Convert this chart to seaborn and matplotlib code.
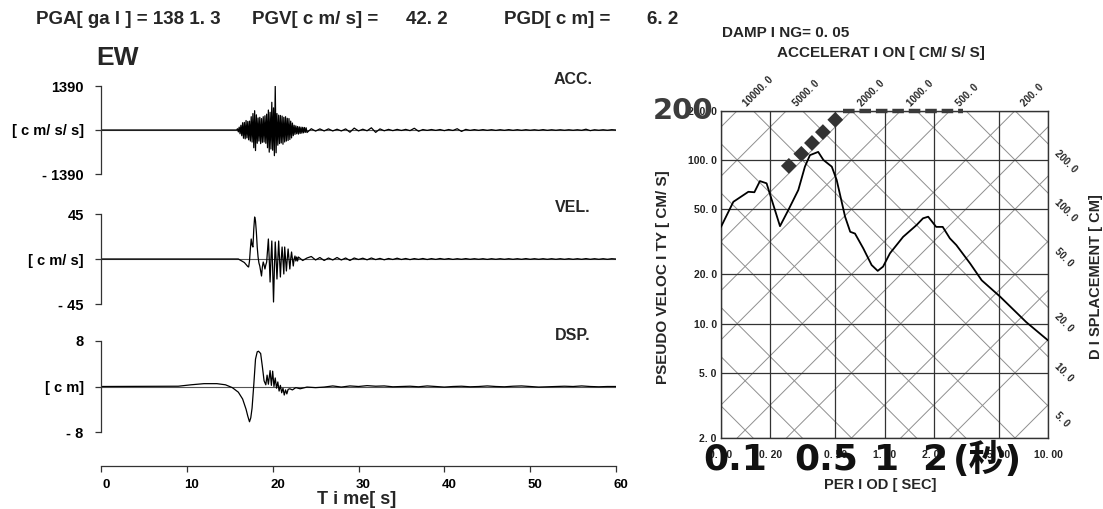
import numpy as np
import pandas as pd
import matplotlib
matplotlib.use("Agg")
import matplotlib.pyplot as plt
import seaborn as sns
from matplotlib.transforms import ScaledTranslation

# ---------------- data ----------------
header_texts = ["PGA[ ga l ] = 138 1. 3", "PGV[ c m/ s] =", "42. 2", "PGD[ c m] =", "6. 2"]
component = "EW"

# acceleration record (gal)
acc_t0, acc_dt = 15.8, 0.1
acc_strong = [0, 40, -60, 90, -120, 150, -180, 230, -260, 240,
              -280, 300, -250, 270, -310, 280, -350, 420, -380, 520,
              -560, 610, -650, 480, -420, 380, -350, 400, -430, 360,
              -390, 420, -380, 450, -420, 500, -560, 630, -700, 560,
              -600, 875, -640, 700, -810, 1381, -720, 520, -480, 470,
              -430, 460, -410, 440, -450, 400, -380, 420, -350, 370,
              -330, 360, -300, 280, -250, 220, -180, 150, -140, 130,
              -120, 110, -130, 100, -110, 90, -100, 85, -90, 80,
              -75, 70, -80]
acc_tail_t0, acc_tail_dt = 24.5, 0.5
acc_tail = [40, -35, 35, -30, 35, -30, 25, -30, 35, -70,
            60, -30, 25, -25, 70, -75, 35, -25, 20, -20,
            20, -15, 20, -20, 55, -40, 15, -12, 15, -12,
            15, -20, 15, -15, 40, -45, 20, -12, 12, -10,
            12, -10, 10, -12, 10, -10, 12, -10, 10, -10,
            10, -8, 8, -10, 12, -10, 8, -8, 8, -8,
            8, -8, 8, -10, 25, -20, 8, -8, 8, -8,
            10, 0]

# velocity record (cm/s)
vel_t0, vel_dt = 16.0, 0.1
vel_strong = [0, -0.5, -1, -1.5, -2, -2.5, -3, -3.5, -4.5, -5.5,
              -6.5, -7.5, -8, -2, 10, 20, 14, 12, 30, 42,
              38, 27, 12, 2, -4, -7, -12, -17, -8, -3,
              -6, -10, -6, -3, 8, 20, 0, -23, 0, 18,
              -10, -43, -10, 17, 0, -20, 0, 18, 0, -18,
              0, 12, -2, -15, 12, 0, -12, 0, 10, 0,
              -10, 0, 7, 0, -7, 0, 3, -2, 2, -2,
              2]
vel_tail_t0, vel_tail_dt = 23.5, 0.5
vel_tail = [-1.5, 1.0, 2.5, -1.0, 1.5, -1.5, 1.0, -1.0, 1.5, -1.0,
            1.0, -1.5, 1.0, -0.5, 0.8, -0.8, 1.0, -0.6, 0.6, -0.8,
            0.5, -0.5, 0.8, -0.5, 0.5, -0.6, 0.4, -0.4, 0.5, -0.5,
            0.4, -0.4, 0.5, -0.3, 0.4, -0.4, 0.3, -0.3, 0.4, -0.3,
            0.3, -0.3, 0.3, -0.4, 0.3, -0.3, 0.3, -0.3, 0.3, -0.3,
            0.3, -0.3, 0.4, -0.3, 0.3, -0.3, 0.3, -0.3, 0.3, -0.3,
            0.3, -0.3, 0.3, -0.3, 0.3, -0.3, 0.4, -0.3, 0.3, -0.3,
            0.3, -0.3, 0.3, 0.0]

# displacement record (cm)
dsp_t = [0, 9.0, 10.5, 12.0, 13.5, 14.5, 15.3, 16.0, 16.5, 16.9,
         17.1, 17.3, 17.45, 17.6, 17.8, 18.0, 18.2, 18.35, 18.6, 18.8,
         19.0, 19.2, 19.35, 19.5, 19.7, 19.85, 20.0, 20.15, 20.3, 20.45,
         20.6, 20.75, 20.9, 21.05, 21.2, 21.35, 21.5, 21.65, 21.8, 22.0,
         22.3, 22.7, 23.2, 24.0, 25.0]
dsp_v = [0, 0.05, 0.3, 0.5, 0.5, 0.3, -0.2, -1.0, -2.2, -4.0,
         -5.2, -6.2, -5.5, -3.8, 0.3, 4.8, 6.1, 6.2, 5.8, 3.5,
         1.0, 0.3, 2.0, 0.4, 2.8, 0.2, 2.7, 0.0, 1.5, -0.3,
         0.8, -0.8, 0.2, -1.1, -0.3, -1.5, -0.6, -1.3, -0.5, -0.4,
         -0.6, -0.2, -0.4, -0.1, -0.2]
dsp_tail_t0, dsp_tail_dt = 26.0, 1.0
dsp_tail = [-0.1, 0.1, -0.1, 0.1, 0.0, 0.15, 0.05, 0.1, -0.05, 0.0,
            0.05, -0.05, 0.1, 0.0, -0.1, 0.0, 0.05, -0.05, 0.0, 0.1,
            0.0, -0.05, 0.05, 0.1, 0.0, -0.1, -0.05, 0.0, 0.05, 0.0,
            0.1, 0.0, -0.05, 0.0, 0.0]

panel_names = ["ACC.", "VEL.", "DSP."]
panel_limits = [1390, 45, 8]
panel_ticklabels = [["- 1390", "[ c m/ s/ s]", "1390"],
                    ["- 45", "[ c m/ s]", "45"],
                    ["- 8", "[ c m]", "8"]]
time_ticks = [0, 10, 20, 30, 40, 50, 60]

# response spectrum
sp_T = [0.10, 0.119, 0.147, 0.16, 0.173, 0.19, 0.2295, 0.258, 0.297, 0.326,
        0.35, 0.393, 0.423, 0.476, 0.51, 0.574, 0.617, 0.66, 0.742, 0.834,
        0.909, 0.98, 1.08, 1.30, 1.57, 1.72, 1.85, 2.07, 2.27, 2.51,
        2.75, 3.34, 3.93, 5.1, 7.37, 10.0]
sp_V = [39.0, 55.5, 63.9, 63.5, 74.3, 72.0, 39.4, 49.4, 65.5, 91.0,
        107, 112, 100, 91, 75.4, 45, 36.4, 35.5, 28.8, 22.8,
        21.0, 22.3, 26.9, 33.9, 40.0, 44.0, 45.0, 39.0, 39.0, 33.2,
        30.2, 23.3, 18.4, 14.6, 10.2, 7.9]
design_T = [0.26, 0.31, 0.36, 0.42, 0.50]
design_V = [92, 109, 127, 148, 176]
plateau_T = [0.56, 3.0]
plateau_V = [200, 200]

period_grid = [0.1, 0.2, 0.5, 1.0, 2.0, 5.0, 10.0]
period_labels = ["0. 10", "0. 20", "0. 50", "1. 00", "2. 00", "5. 00", "10. 00"]
vel_grid = [2, 5, 10, 20, 50, 100, 200]
vel_labels = ["2. 0", "5. 0", "10. 0", "20. 0", "50. 0", "100. 0", "200. 0"]
accel_grid = [2, 5, 10, 20, 50, 100, 200, 500, 1000, 2000, 5000, 10000]
accel_labelled = [10000, 5000, 2000, 1000, 500, 200]
disp_grid = [0.05, 0.1, 0.2, 0.5, 1, 2, 5, 10, 20, 50, 100, 200]
disp_labelled = [200, 100, 50, 20, 10, 5]
overlay_bottom = ["0.1", "0.5", "1", "2", "(秒)"]
overlay_top = "200"

# ---------------- figure ----------------
sns.set_theme(style="white")
plt.rcParams['font.family'] = ['Liberation Sans', 'DejaVu Sans', 'Noto Sans CJK JP']
plt.rcParams['font.weight'] = 'bold'

W, H = 1103, 509
fig = plt.figure(figsize=(W / 100, H / 100), dpi=100)
fig.patch.set_facecolor('white')

def fx(px):
    return px / W

def fy(py):
    return 1 - py / H

# header
for txt, xp in zip(header_texts, [36, 252, 406, 504, 647]):
    fig.text(fx(xp), fy(20), txt, ha='left', va='center', fontsize=13.5, fontweight='bold')
fig.text(fx(96), fy(58), component, ha='left', va='center', fontsize=19, fontweight='bold')

# traces
acc_t = [0.0] + list(acc_t0 + acc_dt * np.arange(len(acc_strong))) + \
        list(acc_tail_t0 + acc_tail_dt * np.arange(len(acc_tail)))
acc_v = [0.0] + acc_strong + acc_tail
vel_t = [0.0] + list(vel_t0 + vel_dt * np.arange(len(vel_strong))) + \
        list(vel_tail_t0 + vel_tail_dt * np.arange(len(vel_tail)))
vel_v = [0.0] + vel_strong + vel_tail
dsp_tt = dsp_t + list(dsp_tail_t0 + dsp_tail_dt * np.arange(len(dsp_tail)))
dsp_vv = dsp_v + dsp_tail

traces = [(acc_t, acc_v), (vel_t, vel_v), (dsp_tt, dsp_vv)]
boxes = [(86, 174, 80), (214, 304, 208), (341, 432, 335)]
x_left, x_right = 101, 616
for (t, v), lim, labs, name, (top, bot, ly) in zip(traces, panel_limits, panel_ticklabels, panel_names, boxes):
    ax = fig.add_axes([fx(x_left), fy(bot), (x_right - x_left) / W, (bot - top) / H])
    ax.patch.set_alpha(0)
    ax.axhline(0, color='#555555', lw=0.8, zorder=1)
    df = pd.DataFrame({"t": t, "v": v})
    sns.lineplot(data=df, x="t", y="v", ax=ax, color='black', lw=0.9,
                 estimator=None, sort=False, zorder=2)
    ax.set_xlim(0, 60)
    ax.set_ylim(-lim, lim)
    ax.set_xlabel(""); ax.set_ylabel("")
    for s in ['top', 'right', 'bottom']:
        ax.spines[s].set_visible(False)
    ax.spines['left'].set_bounds(-lim, lim)
    ax.spines['left'].set_color('#333333')
    ax.spines['left'].set_linewidth(0.9)
    ax.set_xticks([])
    ax.set_yticks([-lim, 0, lim])
    ax.set_yticklabels(labs, fontsize=10.5, fontweight='bold')
    ax.tick_params(axis='y', direction='out', length=4.5, width=0.9, pad=8,
                   left=True, colors='#333333', labelcolor='black')
    fig.text(fx(573), fy(ly), name, ha='center', va='center', fontsize=11.5, fontweight='bold')

# time axis
axt = fig.add_axes([fx(x_left), fy(466), (x_right - x_left) / W, 0.0001])
axt.patch.set_alpha(0)
axt.set_xlim(0, 60)
axt.set_yticks([])
for s in ['top', 'right', 'left']:
    axt.spines[s].set_visible(False)
axt.spines['bottom'].set_color('#333333')
axt.spines['bottom'].set_linewidth(0.9)
axt.set_xticks(time_ticks)
axt.set_xticklabels([str(v) for v in time_ticks], fontsize=9.5, fontweight='bold')
axt.tick_params(axis='x', direction='out', length=4, width=0.9, pad=5,
                bottom=True, colors='#333333', labelcolor='black')
off = ScaledTranslation(5 / 100, 0, fig.dpi_scale_trans)
for lbl in axt.get_xticklabels():
    lbl.set_transform(lbl.get_transform() + off)
fig.text(fx(357), fy(500), "T i me[ s]", ha='center', va='center', fontsize=13, fontweight='bold')

# ---------------- tripartite spectrum ----------------
axs = fig.add_axes([fx(721), fy(438), 327 / W, 327.3 / H])
axs.set_xscale('log'); axs.set_yscale('log')
axs.set_xlim(0.1, 10); axs.set_ylim(2, 200)
Tline = np.array([0.01, 100.0])
for A in accel_grid:
    axs.plot(Tline, A * Tline / (2 * np.pi), color='#8f8f8f', lw=0.7, zorder=1)
for D in disp_grid:
    axs.plot(Tline, 2 * np.pi * D / Tline, color='#8f8f8f', lw=0.7, zorder=1)
for T in period_grid:
    axs.axvline(T, color='#333333', lw=0.9, zorder=2)
for V in vel_grid:
    axs.axhline(V, color='#333333', lw=0.9, zorder=2)

sns.lineplot(x=sp_T, y=sp_V, ax=axs, color='black', lw=1.3, estimator=None, sort=False, zorder=4)
sns.scatterplot(x=design_T, y=design_V, ax=axs, marker='D', s=65, color='#333333',
                edgecolor='none', zorder=5, clip_on=False)
pl = axs.plot(plateau_T, plateau_V, color='#3a3a3a', lw=3.2, zorder=5, clip_on=False,
              dash_capstyle='butt')[0]
pl.set_dashes((2.6, 1.1))

axs.set_xticks(period_grid)
axs.set_xticklabels(period_labels, fontsize=7.5, fontweight='bold')
axs.set_yticks(vel_grid)
axs.set_yticklabels(vel_labels, fontsize=7.5, fontweight='bold')
axs.minorticks_off()
axs.tick_params(axis='x', length=0, pad=9, labelcolor='#222222')
axs.tick_params(axis='y', length=0, pad=3, labelcolor='#222222')
for s in axs.spines.values():
    s.set_color('#333333'); s.set_linewidth(1.0); s.set_visible(True)
axs.grid(False)

# acceleration labels (top)
for A in accel_labelled:
    T = 2 * np.pi * 200 / A
    tr = axs.transData + ScaledTranslation(8 / 100, 6 / 100, fig.dpi_scale_trans)
    axs.text(T, 200, f"{A:.1f}".replace(".", ". "), transform=tr, rotation=45,
             rotation_mode='anchor', ha='left', va='center', fontsize=7, fontweight='bold',
             clip_on=False)
# displacement labels (right)
for D in disp_labelled:
    V = 2 * np.pi * D / 10
    tr = axs.transData + ScaledTranslation(8 / 100, -8 / 100, fig.dpi_scale_trans)
    axs.text(10, V, f"{D:.1f}".replace(".", ". "), transform=tr, rotation=-45,
             rotation_mode='anchor', ha='left', va='center', fontsize=7, fontweight='bold',
             clip_on=False)

fig.text(fx(722), fy(33), "DAMP I NG= 0. 05", ha='left', va='center', fontsize=11, fontweight='bold')
fig.text(fx(881), fy(53), "ACCELERAT I ON [ CM/ S/ S]", ha='center', va='center', fontsize=11, fontweight='bold')
fig.text(fx(663), fy(277), "PSEUDO VELOC I TY [ CM/ S]", ha='center', va='center', rotation=90,
         fontsize=11, fontweight='bold')
fig.text(fx(1096), fy(277), "D I SPLACEMENT [ CM]", ha='center', va='center', rotation=90,
         fontsize=10.5, fontweight='bold')
fig.text(fx(880), fy(485), "PER I OD [ SEC]", ha='center', va='center', fontsize=10.5, fontweight='bold')

# overlays
big_fam = ['DejaVu Sans', 'Noto Sans CJK JP']
fig.text(fx(683.5), fy(111), overlay_top, ha='center', va='center', fontsize=21,
         fontweight='bold', color='#3c3c3c', family=big_fam, zorder=10)
for txt, xc in zip(overlay_bottom, [735, 826, 887, 935, 987]):
    fig.text(fx(xc), fy(460), txt, ha='center', va='center', fontsize=26,
             fontweight='bold', color='#111111', family=big_fam, zorder=10)

fig.savefig("out.png", dpi=100, facecolor='white')
